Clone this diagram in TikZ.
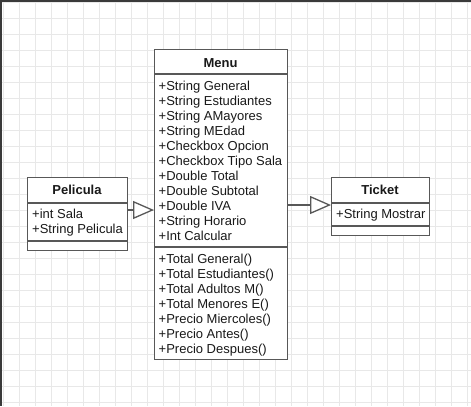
\documentclass[tikz,border=0pt]{standalone}
\usepackage{fontspec}
\setmainfont{Liberation Sans}
\usetikzlibrary{arrows.meta}

\definecolor{gridgray}{RGB}{232,232,232}
\definecolor{framegray}{RGB}{58,58,58}
\definecolor{boxline}{RGB}{88,88,88}
\definecolor{textgray}{RGB}{25,25,25}

\begin{document}
\begin{tikzpicture}[x=1bp, y=-1bp,
    classbox/.style={draw=boxline, line width=1.3bp, fill=white, inner sep=0pt, anchor=north west},
    sepline/.style={draw=boxline, line width=1.3bp},
    attr/.style={anchor=base west, inner sep=0pt, text=textgray, font=\fontsize{13bp}{15bp}\selectfont},
    title/.style={anchor=base, inner sep=0pt, text=textgray, font=\fontsize{13bp}{15bp}\selectfont\bfseries},
    extends/.style={draw=boxline, line width=1.3bp, -{Triangle[length=21bp, width=18bp, fill=white]}}]
    \useasboundingbox (0,0) rectangle (471,406);

    % background grid
    \fill[white] (0,0) rectangle (471,406);
    \foreach \x in {3,19,...,467}
        \draw[gridgray] (\x,0) -- (\x,406);
    \foreach \y in {2,18,...,402}
        \draw[gridgray] (0,\y) -- (471,\y);
    \fill[framegray] (0,0) rectangle (471,2);
    \fill[framegray] (0,0) rectangle (2,406);

    % Menu
    \node[classbox, minimum width=133bp, minimum height=310bp] (menu) at (154,49) {};
    \draw[sepline] (menu.west |- 0,74) -- (menu.east |- 0,74);
    \draw[sepline] (menu.west |- 0,247) -- (menu.east |- 0,247);
    \node[title] (menutitle) at (220.5,67) {Menu};
    \foreach \t [count=\i] in {String General, String Estudiantes, String AMayores,
        String MEdad, Checkbox Opcion, Checkbox Tipo Sala, Double Total,
        Double Subtotal, Double IVA, String Horario, Int Calcular}
        \node[attr] (mattr\i) at (158.5, 75+15*\i) {+\t};
    \foreach \t [count=\i] in {Total General(), Total Estudiantes(), Total Adultos M(),
        Total Menores E(), Precio Miercoles(), Precio Antes(), Precio Despues()}
        \node[attr] (mop\i) at (158.5, 248+15*\i) {+\t};

    % Pelicula
    \node[classbox, minimum width=100bp, minimum height=73bp] (pelicula) at (27,177) {};
    \draw[sepline] (pelicula.west |- 0,203) -- (pelicula.east |- 0,203);
    \draw[sepline] (pelicula.west |- 0,241) -- (pelicula.east |- 0,241);
    \node[title] (pelititle) at (77,194.5) {Pelicula};
    \node[attr] (pattr1) at (32,218) {+int Sala};
    \node[attr] (pattr2) at (32,233) {+String Pelicula};

    % Ticket
    \node[classbox, minimum width=98bp, minimum height=58bp] (ticket) at (331,177) {};
    \draw[sepline] (ticket.west |- 0,203) -- (ticket.east |- 0,203);
    \draw[sepline] (ticket.west |- 0,226) -- (ticket.east |- 0,226);
    \node[title] (tickettitle) at (380,194.5) {Ticket};
    \node[attr] (tattr1) at (336,218) {+String Mostrar};

    % herencia
    \draw[extends] (pelicula.east |- 0,210) -- (menu.west |- 0,210);
    \draw[extends] (menu.east |- 0,205) -- (ticket.west |- 0,205);
\end{tikzpicture}
\end{document}
